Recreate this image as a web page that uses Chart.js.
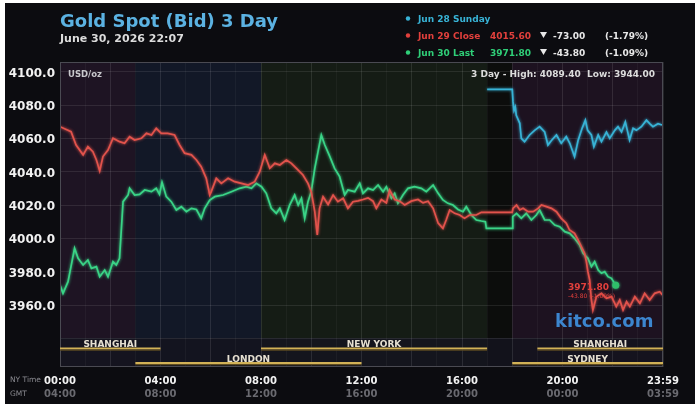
<!DOCTYPE html>
<html><head><meta charset="utf-8">
<script src="https://cdn.jsdelivr.net/npm/chart.js@4"></script>
<style>html,body{margin:0;padding:0;background:#fff;overflow:hidden}</style>
</head><body>
<canvas id="c" width="700" height="409" style="display:block;width:700px;height:409px"></canvas>
<script>
// ---------- DATA ----------
const cyanHours  = [17.00,18.00,18.03,18.07,18.12,18.16,18.30,18.36,18.49,18.69,18.89,19.09,19.29,19.42,19.56,19.76,19.95,20.15,20.29,20.48,20.62,20.78,20.91,21.00,21.15,21.25,21.42,21.55,21.75,21.88,22.08,22.21,22.35,22.50,22.67,22.81,22.94,23.14,23.34,23.47,23.60,23.80,23.96];
const cyanPrices = [4089.4,4089.4,4082.0,4076.8,4078.8,4073.8,4069.0,4060.0,4058.0,4062.0,4064.8,4067.0,4063.8,4056.0,4058.7,4062.0,4057.0,4061.0,4057.0,4049.0,4058.7,4066.0,4070.9,4064.8,4062.0,4055.0,4062.0,4058.0,4063.8,4060.0,4064.8,4067.0,4063.8,4069.9,4059.0,4066.0,4064.8,4067.0,4070.9,4068.8,4067.0,4068.8,4068.0];

const redHours  = [0.00,0.44,0.64,0.92,1.11,1.31,1.45,1.58,1.71,1.91,2.11,2.37,2.57,2.77,2.97,3.24,3.44,3.64,3.83,4.03,4.29,4.56,4.76,4.96,5.23,5.43,5.62,5.82,5.96,6.02,6.22,6.42,6.69,6.95,7.22,7.49,7.75,7.95,8.15,8.35,8.55,8.75,9.01,9.21,9.41,9.67,9.87,10.00,10.14,10.24,10.33,10.47,10.67,10.87,11.06,11.27,11.46,11.66,11.86,12.06,12.26,12.46,12.59,12.79,12.99,13.12,13.32,13.52,13.72,13.98,14.25,14.45,14.65,14.85,15.05,15.24,15.37,15.51,15.71,15.91,16.10,16.30,16.57,16.77,18.00,18.03,18.17,18.30,18.43,18.63,18.83,19.03,19.16,19.36,19.56,19.76,19.95,20.15,20.28,20.48,20.62,20.75,20.88,20.95,21.01,21.08,21.15,21.21,21.35,21.55,21.75,21.95,22.14,22.28,22.41,22.55,22.68,22.88,23.08,23.27,23.47,23.67,23.87,23.98];
const redPrices = [4067.0,4064.0,4056.0,4050.1,4055.0,4052.0,4047.0,4040.4,4049.1,4053.0,4060.1,4058.0,4057.0,4061.0,4059.0,4060.0,4063.0,4062.0,4066.0,4063.0,4063.0,4062.0,4056.0,4051.1,4050.1,4047.0,4043.0,4036.0,4026.0,4028.0,4036.0,4033.0,4036.0,4034.0,4033.0,4032.0,4034.0,4040.0,4050.1,4042.0,4045.0,4044.0,4047.0,4045.0,4042.0,4038.0,4033.0,4028.0,4016.0,4002.0,4018.0,4025.0,4020.3,4026.0,4022.0,4024.0,4018.0,4022.0,4022.5,4023.3,4024.3,4022.3,4018.0,4023.3,4021.3,4029.0,4023.3,4022.3,4020.0,4022.3,4023.3,4021.3,4022.3,4018.0,4009.1,4006.0,4011.0,4017.0,4015.0,4014.0,4012.0,4014.0,4014.0,4015.6,4015.6,4018.0,4020.0,4017.0,4018.0,4016.0,4016.0,4018.0,4020.0,4019.0,4018.0,4016.0,4012.0,4009.1,4005.0,4003.0,3999.0,3995.0,3991.0,3986.0,3980.0,3975.1,3963.0,3957.0,3965.0,3967.0,3964.0,3965.0,3959.0,3963.0,3957.0,3962.0,3959.0,3965.0,3961.0,3967.0,3963.0,3967.0,3968.0,3966.0];

const greenHours  = [0.00,0.12,0.32,0.58,0.72,0.92,1.11,1.25,1.45,1.58,1.78,1.91,2.11,2.24,2.37,2.51,2.71,2.77,2.97,3.17,3.37,3.64,3.83,3.96,4.06,4.23,4.43,4.63,4.83,5.03,5.23,5.43,5.62,5.76,5.96,6.16,6.49,6.82,7.15,7.42,7.62,7.81,8.02,8.21,8.41,8.61,8.75,8.94,9.14,9.34,9.48,9.61,9.74,9.87,10.00,10.14,10.27,10.40,10.54,10.74,10.93,11.13,11.33,11.46,11.73,11.93,12.06,12.26,12.46,12.66,12.86,12.99,13.19,13.32,13.45,13.65,13.85,14.11,14.38,14.58,14.85,15.05,15.24,15.44,15.64,15.84,16.04,16.17,16.37,16.57,16.77,16.93,16.97,18.00,18.02,18.17,18.36,18.56,18.76,18.96,19.09,19.29,19.49,19.69,19.89,20.09,20.29,20.48,20.68,20.82,21.01,21.15,21.28,21.42,21.55,21.68,21.81,21.95,22.12];
const greenPrices = [3972.0,3967.0,3974.0,3994.0,3988.0,3984.0,3987.0,3982.0,3983.0,3977.0,3981.0,3977.0,3986.0,3984.0,3988.0,4022.0,4026.0,4030.0,4026.0,4026.4,4029.0,4028.0,4030.0,4026.4,4033.6,4025.0,4022.0,4017.0,4019.0,4016.0,4018.0,4017.3,4012.0,4018.0,4023.0,4025.0,4026.0,4028.0,4030.0,4031.0,4030.0,4033.0,4031.0,4027.0,4018.0,4015.0,4018.0,4011.0,4020.0,4026.0,4020.0,4024.0,4012.0,4022.0,4028.0,4042.0,4052.0,4062.0,4056.0,4049.0,4042.0,4037.0,4026.0,4029.0,4028.0,4033.0,4027.0,4030.0,4029.0,4032.0,4028.0,4031.0,4024.0,4027.0,4021.0,4026.0,4030.0,4031.0,4030.0,4028.0,4032.0,4027.0,4023.0,4021.0,4020.0,4017.3,4016.0,4019.0,4014.0,4011.0,4010.4,4010.0,4006.0,4006.0,4013.0,4015.0,4012.0,4015.0,4011.0,4014.0,4017.0,4011.0,4011.0,4008.0,4007.0,4004.0,4003.0,4000.0,3996.0,3991.0,3988.0,3983.0,3986.0,3981.0,3979.0,3980.0,3977.0,3976.0,3971.8];

const yTickValues = [3940,3960,3980,4000,4020,4040,4060,4080,4100];
const xTickHours  = [0,1,2,3,4,5,6,7,8,9,10,11,12,13,14,15,16,17,18,19,20,21,22,23,24];
const nyLabels  = {0:'00:00',4:'04:00',8:'08:00',12:'12:00',16:'16:00',20:'20:00',24:'23:59'};
const gmtLabels = {0:'04:00',4:'08:00',8:'12:00',12:'16:00',16:'20:00',20:'00:00',24:'03:59'};

const regionStart = [0,3,8,17,18];
const regionEnd   = [3,8,17,18,24];
const sessionNames = ['SHANGHAI','LONDON','NEW YORK','SHANGHAI','SYDNEY'];
const sessionStart = [0,3,8,19,18];
const sessionEnd   = [4,12,17,24,24];
const sessionRow   = [0,1,0,0,1];

const legendNames  = ['Jun 28 Sunday','Jun 29 Close','Jun 30 Last'];
const legendValues = ['','4015.60','3971.80'];
const legendChange = ['','-73.00','-43.80'];
const legendPct    = ['','(-1.79%)','(-1.09%)'];

// ---------- STYLE ----------
const FONT = "'DejaVu Sans', Verdana, sans-serif";
const regionColors = ['#1e1423','#121827','#151c15','#0c0d0c','#1d1220'];
const COL_CYAN = '#38b3d6', COL_RED = '#e2534c', COL_GREEN = '#3ad487';

const toXY = (hs, vs) => hs.map((h, i) => ({x: h, y: vs[i]}));

const bgPlugin = {
  id: 'bg',
  beforeDraw(chart) {
    const ctx = chart.ctx, ca = chart.chartArea, xs = chart.scales.x;
    ctx.save();
    ctx.fillStyle = '#ffffff'; ctx.fillRect(0, 0, chart.width, chart.height);
    ctx.fillStyle = '#0c0c10'; ctx.fillRect(5, 3, 690, 401);
    for (let i = 0; i < regionStart.length; i++) {
      const x1 = xs.getPixelForValue(regionStart[i]), x2 = xs.getPixelForValue(regionEnd[i]);
      ctx.fillStyle = regionColors[i];
      ctx.fillRect(x1, ca.top, x2 - x1, ca.bottom - ca.top);
    }
    ctx.fillStyle = 'rgba(20,20,30,0.85)';
    ctx.fillRect(ca.left, ca.bottom - 29, ca.right - ca.left, 29);
    ctx.restore();
  },
  beforeDatasetDraw(chart, args) {
    const ctx = chart.ctx;
    ctx.save();
    ctx.shadowColor = args.meta.dataset.options.borderColor;
    ctx.shadowBlur = 3;
  },
  afterDatasetDraw(chart) { chart.ctx.restore(); },
  afterDraw(chart) {
    const ctx = chart.ctx, ca = chart.chartArea, xs = chart.scales.x;
    ctx.save();
    ctx.strokeStyle = '#4a4a52'; ctx.lineWidth = 1;
    ctx.strokeRect(ca.left + 0.5, ca.top + 0.5, ca.right - ca.left - 1, ca.bottom - ca.top - 1);
    for (let i = 0; i < sessionNames.length; i++) {
      const x1 = xs.getPixelForValue(sessionStart[i]), x2 = xs.getPixelForValue(sessionEnd[i]);
      const top = sessionRow[i] === 0 ? ca.bottom - 19.5 : ca.bottom - 5;
      ctx.fillStyle = '#d2b257'; ctx.fillRect(x1, top, x2 - x1, 2);
      ctx.fillStyle = '#5e4c22'; ctx.fillRect(x1, top + 2, x2 - x1, 1.2);
      ctx.font = 'bold 9px ' + FONT; ctx.fillStyle = '#e6e0d2';
      ctx.textAlign = 'center'; ctx.textBaseline = 'alphabetic';
      ctx.fillText(sessionNames[i], (x1 + x2) / 2, top - 0.5);
    }
    ctx.font = 'bold 10px ' + FONT; ctx.fillStyle = '#6a6a70';
    ctx.textAlign = 'center'; ctx.textBaseline = 'middle';
    Object.keys(gmtLabels).forEach(h => ctx.fillText(gmtLabels[h], xs.getPixelForValue(+h), 394));
    ctx.font = '7.5px ' + FONT; ctx.textAlign = 'left'; ctx.fillStyle = '#8a8a90';
    ctx.fillText('NY Time', 10, 380);
    ctx.fillText('GMT', 10, 394);
    ctx.textBaseline = 'alphabetic';
    ctx.font = 'bold 18px ' + FONT; ctx.fillStyle = '#5bb2e2';
    ctx.fillText('Gold Spot (Bid) 3 Day', 60, 27);
    ctx.font = 'bold 11px ' + FONT; ctx.fillStyle = '#dcdcdc';
    ctx.fillText('June 30, 2026 22:07', 60, 41.5);
    const cols = [COL_CYAN, '#e2403c', '#2fcf78'];
    for (let i = 0; i < 3; i++) {
      const by = 22 + i * 17;
      ctx.fillStyle = cols[i];
      ctx.beginPath(); ctx.arc(408, by - 3.5, 2.2, 0, Math.PI * 2); ctx.fill();
      ctx.font = 'bold 9px ' + FONT; ctx.textAlign = 'left';
      ctx.fillText(legendNames[i], 418, by);
      if (legendValues[i]) {
        ctx.fillText(legendValues[i], 490, by);
        ctx.fillStyle = '#e8e8e8';
        ctx.beginPath(); ctx.moveTo(540, by - 7); ctx.lineTo(547, by - 7); ctx.lineTo(543.5, by - 1); ctx.closePath(); ctx.fill();
        ctx.fillText(legendChange[i], 553, by);
        ctx.fillText(legendPct[i], 605, by);
      }
    }
    ctx.font = 'bold 8.5px ' + FONT; ctx.fillStyle = '#c8c8cc'; ctx.textAlign = 'left';
    ctx.fillText('USD/oz', 68, 77);
    ctx.textAlign = 'right'; ctx.font = 'bold 9px ' + FONT; ctx.fillStyle = '#dcdcdc';
    ctx.fillText('3 Day - High: 4089.40  Low: 3944.00', 655, 77);
    ctx.textAlign = 'left'; ctx.fillStyle = '#e2403c';
    ctx.font = 'bold 9px ' + FONT;
    ctx.fillText(legendValues[2], 568, 290);
    ctx.font = '6px ' + FONT;
    ctx.fillText(legendChange[2] + ' ' + legendPct[2], 568, 298);
    ctx.font = 'bold 18px ' + FONT; ctx.fillStyle = '#3c86cf';
    ctx.fillText('kitco.com', 555, 327);
    ctx.restore();
  }
};

const lastIdx = greenHours.length - 1;
new Chart(document.getElementById('c'), {
  type: 'line',
  data: {
    datasets: [
      {label: legendNames[0], data: toXY(cyanHours, cyanPrices), borderColor: COL_CYAN, borderWidth: 1.7, pointRadius: 0},
      {label: legendNames[1], data: toXY(redHours, redPrices), borderColor: COL_RED, borderWidth: 1.7, pointRadius: 0},
      {label: legendNames[2], data: toXY(greenHours, greenPrices), borderColor: COL_GREEN, borderWidth: 1.7,
       pointRadius: c => c.dataIndex === lastIdx ? 3.5 : 0, pointBackgroundColor: '#2fbf6a', pointBorderWidth: 0}
    ]
  },
  options: {
    responsive: false, animation: false, devicePixelRatio: 1,
    layout: {padding: {left: 5, right: 37, top: 62, bottom: 0}},
    plugins: {legend: {display: false}, tooltip: {enabled: false}},
    elements: {line: {tension: 0}},
    scales: {
      x: {
        type: 'linear', min: 0, max: 24,
        afterBuildTicks: s => { s.ticks = xTickHours.map(v => ({value: v})); },
        afterFit: s => { s.height = 42; },
        grid: {color: c => (c.tick && c.tick.value % 2 === 0) ? 'rgba(255,255,255,0.10)' : 'rgba(255,255,255,0.04)', drawTicks: false},
        border: {display: false},
        ticks: {autoSkip: false, maxRotation: 0, padding: 8, color: '#f2f2f2', font: {family: FONT, weight: 'bold', size: 10},
                callback: v => nyLabels[v] || ''}
      },
      y: {
        type: 'linear', min: 3922.8, max: 4105.8,
        afterBuildTicks: s => { s.ticks = yTickValues.map(v => ({value: v})); },
        afterFit: s => { s.width = 55; },
        grid: {color: 'rgba(255,255,255,0.09)', drawTicks: false},
        border: {display: false},
        ticks: {padding: 5, labelOffset: 2, color: '#f2f2f2', font: {family: FONT, weight: 'bold', size: 12},
                callback: v => v < 3960 ? '' : Number(v).toFixed(1)}
      }
    }
  },
  plugins: [bgPlugin]
});
</script>
</body></html>
